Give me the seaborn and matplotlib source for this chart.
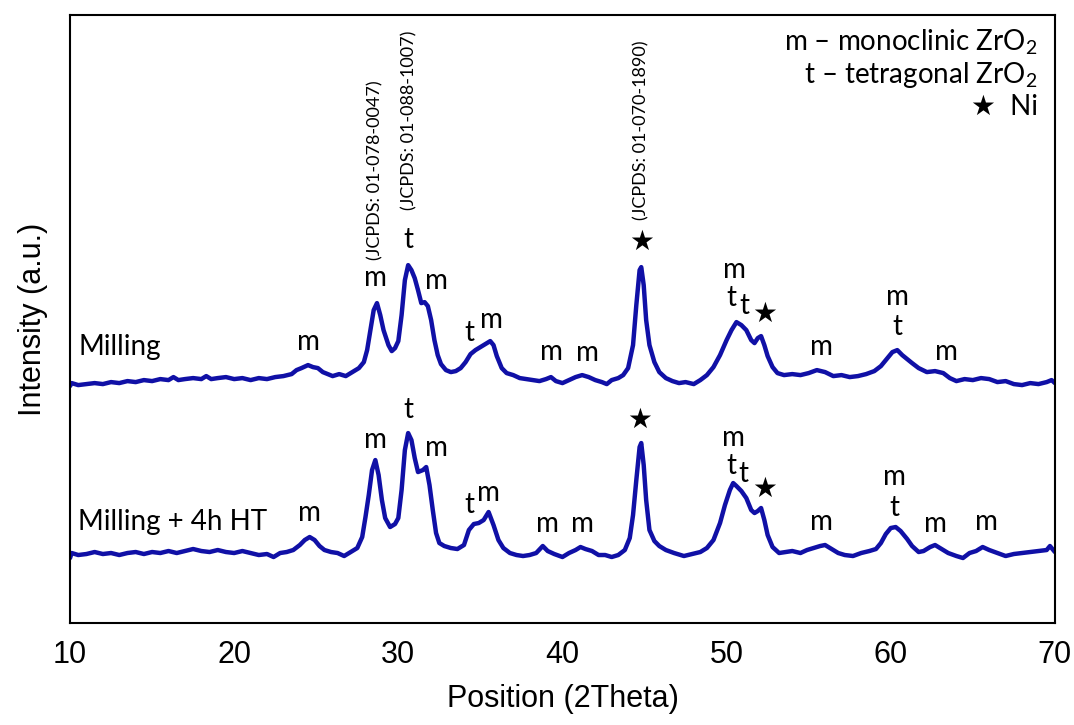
import numpy as np
import pandas as pd
import seaborn as sns
import matplotlib.pyplot as plt
from matplotlib.ticker import MultipleLocator

# 2theta positions and intensities (a.u.)
milling_x = [10.0, 10.1, 10.5, 11, 11.5, 12, 12.5, 13, 13.5, 14, 14.5, 15, 15.5, 16, 16.3, 16.6, 17, 17.5, 18, 18.3,
             18.6, 19, 19.5, 20, 20.5, 21, 21.5, 22, 22.5, 23, 23.5, 23.8, 24.1, 24.5, 24.8, 25.1, 25.4, 25.7, 26, 26.4,
             26.8, 27.2, 27.6, 27.9, 28.1, 28.3, 28.5, 28.7, 28.9, 29.1, 29.4, 29.6, 29.8, 30.0, 30.2, 30.4, 30.6, 30.8,
             31.0, 31.2, 31.4, 31.6, 31.8, 32.0, 32.2, 32.4, 32.6, 32.9, 33.2, 33.5, 33.8, 34.1, 34.4, 34.7, 35.0, 35.3,
             35.6, 35.8, 36.0, 36.3, 36.6, 37.0, 37.4, 37.8, 38.2, 38.6, 39.0, 39.3, 39.6, 40.0, 40.4, 40.8, 41.2, 41.6,
             42.0, 42.4, 42.7, 43.0, 43.4, 43.7, 44.0, 44.3, 44.5, 44.7, 44.8, 44.95, 45.1, 45.3, 45.6, 45.9, 46.3,
             46.7, 47.1, 47.5, 48.0, 48.4, 48.8, 49.2, 49.6, 50.0, 50.3, 50.6, 50.9, 51.2, 51.5, 51.7, 51.9, 52.1, 52.3,
             52.5, 52.8, 53.1, 53.5, 54.0, 54.5, 55.0, 55.5, 56.0, 56.5, 57.0, 57.5, 58.0, 58.5, 59.0, 59.4, 59.8, 60.1,
             60.4, 60.7, 61.0, 61.3, 61.7, 62.2, 62.7, 63.2, 63.6, 64.0, 64.5, 65.0, 65.5, 66.0, 66.5, 67.0, 67.5, 68.0,
             68.5, 69.0, 69.5, 69.8, 70.0]
milling_y = [67, 70, 68, 69, 70, 69, 71, 70, 72, 71, 73, 72, 74, 73, 76, 73, 74, 75, 74, 77,
             74, 75, 76, 74, 75, 73, 75, 74, 76, 77, 79, 83, 85, 88, 86, 85, 81, 79, 77, 79,
             77, 81, 85, 91, 103, 123, 143, 150, 138, 123, 108, 102, 105, 112, 138, 173, 188, 183,
             175, 163, 150, 151, 147, 133, 113, 98, 89, 83, 81, 82, 85, 91, 99, 103, 106, 109,
             112, 108, 97, 85, 80, 78, 75, 74, 73, 72, 74, 76, 72, 70, 73, 76, 78, 76,
             73, 71, 69, 73, 75, 78, 85, 108, 148, 183, 186, 168, 133, 108, 91, 81, 75,
             72, 70, 71, 69, 73, 78, 86, 98, 113, 123, 131, 128, 123, 113, 110, 115, 117, 108,
             97, 86, 80, 78, 79, 78, 80, 83, 81, 77, 78, 76, 77, 79, 82, 87, 95, 101,
             103, 98, 94, 90, 85, 81, 82, 80, 75, 72, 74, 73, 75, 74, 71, 72, 69, 68,
             70, 69, 71, 73, 70]

ht_x = [10.0, 10.1, 10.5, 11, 11.5, 12, 12.5, 13, 13.5, 14, 14.5, 15, 15.5, 16, 16.5, 17, 17.5, 18, 18.5, 19,
        19.5, 20, 20.5, 21, 21.5, 22, 22.4, 22.8, 23.2, 23.6, 24.0, 24.3, 24.6, 24.9, 25.2, 25.5, 25.9, 26.3, 26.7,
        27.1, 27.5, 27.8, 28.0, 28.2, 28.4, 28.6, 28.8, 29.0, 29.2, 29.5, 29.8, 30.0, 30.2, 30.4, 30.6, 30.8, 31.0,
        31.2, 31.5, 31.7, 31.9, 32.1, 32.3, 32.5, 32.8, 33.2, 33.6, 34.0, 34.3, 34.6, 34.9, 35.2, 35.5, 35.8, 36.1,
        36.4, 36.8, 37.2, 37.6, 38.0, 38.4, 38.8, 39.1, 39.5, 40.0, 40.4, 40.8, 41.1, 41.4, 41.8, 42.2, 42.6, 43.0,
        43.4, 43.8, 44.1, 44.3, 44.5, 44.7, 44.8, 44.95, 45.1, 45.3, 45.6, 45.9, 46.3, 46.8, 47.4, 47.9, 48.4, 48.8,
        49.2, 49.6, 49.9, 50.2, 50.4, 50.6, 50.9, 51.2, 51.5, 51.7, 51.9, 52.1, 52.3, 52.5, 52.8, 53.2, 53.6, 54.0,
        54.5, 54.9, 55.3, 55.7, 56.0, 56.4, 56.8, 57.2, 57.7, 58.2, 58.7, 59.1, 59.4, 59.7, 60.0, 60.3, 60.6, 61.0,
        61.3, 61.7, 62.0, 62.4, 62.7, 63.0, 63.5, 64.0, 64.4, 64.8, 65.2, 65.6, 66.0, 66.5, 67.0, 67.5, 68.0, 68.5,
        69.0, 69.5, 69.7, 70.0]
ht_y = [65, 70, 68, 69, 71, 69, 70, 68, 70, 71, 69, 71, 70, 72, 70, 72, 74, 72, 71, 73,
        71, 70, 72, 70, 68, 69, 66, 70, 71, 73, 78, 83, 86, 83, 77, 73, 71, 70, 67,
        71, 75, 86, 106, 128, 153, 163, 148, 123, 105, 96, 99, 105, 133, 173, 190, 183, 165,
        151, 153, 156, 138, 113, 90, 80, 77, 75, 74, 78, 93, 99, 100, 103, 111, 98, 83,
        75, 70, 68, 67, 68, 70, 77, 72, 69, 66, 70, 73, 76, 74, 72, 68, 68, 66,
        68, 73, 85, 108, 143, 176, 180, 158, 123, 93, 82, 77, 73, 70, 67, 69, 71, 75,
        83, 100, 118, 133, 140, 137, 132, 125, 113, 110, 112, 115, 103, 88, 76, 70, 71, 72,
        70, 73, 75, 77, 78, 74, 70, 68, 67, 70, 72, 74, 80, 89, 95, 96, 92, 84,
        77, 71, 72, 76, 78, 75, 70, 67, 65, 70, 72, 76, 73, 70, 67, 69, 70, 71,
        72, 73, 77, 71]

# vertical shift of the upper pattern
offset = 170

peak_labels = [
    ("m", 24.5, 281), ("m", 28.6, 345), ("t", 30.6, 383), ("m", 32.35, 342),
    ("t", 34.3, 290), ("m", 35.7, 303), ("m", 39.35, 271), ("m", 41.5, 270),
    ("★", 44.8, 381), ("m", 50.5, 353), ("t", 50.3, 325), ("t", 51.1, 317),
    ("★", 52.3, 309), ("m", 55.8, 276), ("m", 60.4, 326), ("t", 60.4, 296),
    ("m", 63.4, 271),
    ("m", 24.6, 110), ("m", 28.6, 183), ("t", 30.6, 213), ("m", 32.35, 175),
    ("t", 34.3, 118), ("m", 35.5, 130), ("m", 39.1, 99), ("m", 41.2, 99),
    ("★", 44.7, 203), ("m", 50.4, 185), ("t", 50.3, 157), ("t", 51.0, 149),
    ("★", 52.3, 134), ("m", 55.8, 101), ("m", 60.2, 146), ("t", 60.2, 115),
    ("m", 62.7, 99), ("m", 65.8, 101),
]

jcpds = [("(JCPDS: 01-078-0047)", 28.6, 363),
         ("(JCPDS: 01-088-1007)", 30.7, 413),
         ("(JCPDS: 01-070-1890)", 44.8, 403)]

key_lines = ["m – monoclinic ZrO$_2$", "t – tetragonal ZrO$_2$", "★  Ni"]

sns.set_style("white")
plt.rcParams['font.family'] = ['Lato', 'DejaVu Sans']
plt.rcParams['mathtext.fontset'] = 'custom'
plt.rcParams['mathtext.rm'] = 'Lato'
plt.rcParams['mathtext.it'] = 'Lato'
plt.rcParams['text.color'] = 'black'
plt.rcParams['axes.labelcolor'] = 'black'
plt.rcParams['xtick.color'] = 'black'

df = pd.concat([
    pd.DataFrame({'x': milling_x, 'y': np.array(milling_y) + offset, 'sample': 'Milling'}),
    pd.DataFrame({'x': ht_x, 'y': ht_y, 'sample': 'Milling + 4h HT'}),
])

fig = plt.figure(figsize=(10.74, 7.25), dpi=100)
ax = fig.add_axes([0.0652, 0.1407, 0.917, 0.8383])
sns.lineplot(data=df, x='x', y='y', hue='sample', units='sample', estimator=None,
             palette=['#1010a6', '#1010a6'], linewidth=3.2, legend=False, ax=ax)

ax.set_xlim(10, 70)
ax.set_ylim(0, 608)
ax.set_yticks([])
ax.xaxis.set_major_locator(MultipleLocator(10))
ax.xaxis.set_minor_locator(MultipleLocator(5))
ax.tick_params(axis='x', which='major', direction='out', length=6, width=1.3, pad=6)
ax.tick_params(axis='x', which='minor', direction='out', length=4, width=1.3)
for s in ax.spines.values():
    s.set_linewidth(1.5)
    s.set_color('black')

axis_font = ['Liberation Sans Narrow', 'Liberation Sans', 'DejaVu Sans']
for lab in ax.get_xticklabels():
    lab.set_family(axis_font)
    lab.set_fontsize(22)
ax.set_xlabel("Position (2Theta)", family=axis_font, fontsize=22, labelpad=10)
ax.set_ylabel("Intensity (a.u.)", family=axis_font, fontsize=22, labelpad=16)

for txt, x, y in peak_labels:
    ax.text(x, y, txt, ha='center', va='center', fontsize=20)
for txt, x, y in jcpds:
    ax.text(x, y, txt, ha='center', va='bottom', rotation=90, fontsize=13)

ax.text(10.5, 276, "Milling", ha='left', va='center', fontsize=20)
ax.text(10.5, 101, "Milling + 4h HT", ha='left', va='center', fontsize=20)

for txt, y in zip(key_lines, [581, 548, 516]):
    ax.text(68.95, y, txt, ha='right', va='center', fontsize=20)

plt.savefig('out.png', dpi=100)
